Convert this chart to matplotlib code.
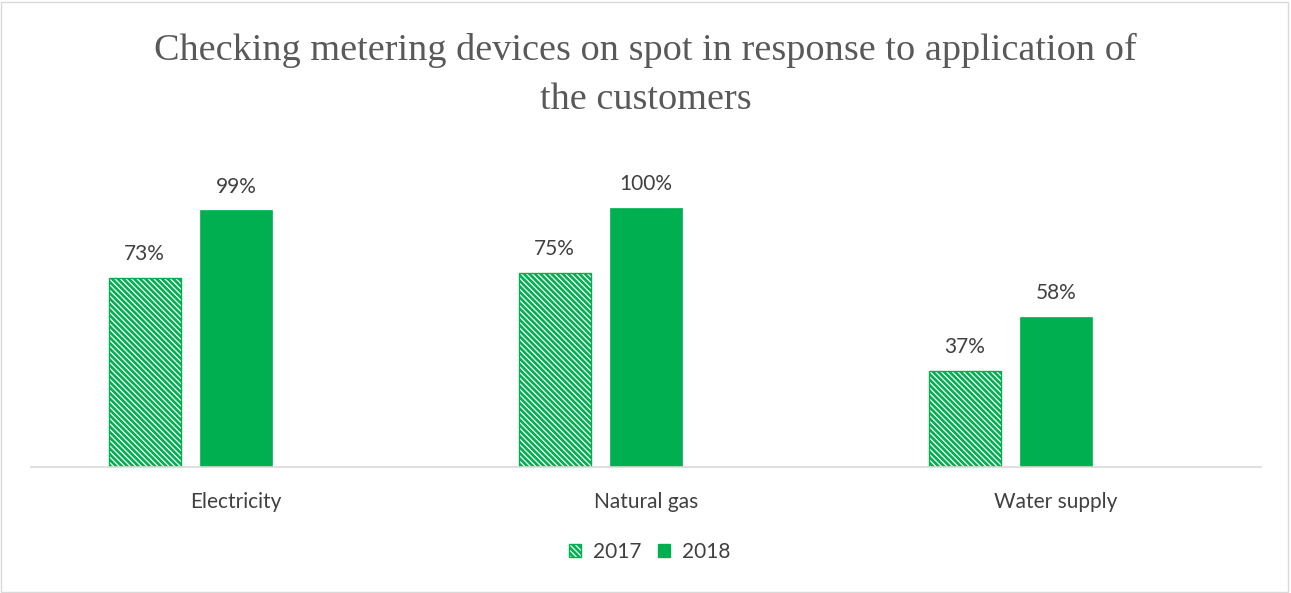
import matplotlib
matplotlib.use("Agg")
import matplotlib.pyplot as plt
from matplotlib.patches import Rectangle, Patch
import numpy as np

categories = ["Electricity", "Natural gas", "Water supply"]
series_names = ["2017", "2018"]
values_2017 = [73, 75, 37]
values_2018 = [99, 100, 58]

GREEN = "#00B050"
TEXT = "#404040"
TITLE = "#595959"
HATCH = "\\" * 6
FONT = "Lato"
FS = 15

plt.rcParams["hatch.linewidth"] = 1.9
plt.rcParams["hatch.color"] = GREEN

fig = plt.figure(figsize=(12.91, 5.93), dpi=100)
fig.patch.set_facecolor("white")
fig.add_artist(Rectangle((0.001, 0.002), 0.997, 0.995, transform=fig.transFigure,
                         fill=False, edgecolor="#D9D9D9", linewidth=1))

ax = fig.add_axes([0.024, 0.2125, 0.9528, 0.5245])
x = np.arange(len(categories))
width = 0.1756
offset = 0.223

b1 = ax.bar(x - offset, values_2017, width, facecolor="white", edgecolor=GREEN,
            hatch=HATCH, linewidth=1.0)
b2 = ax.bar(x, values_2018, width, color=GREEN, edgecolor=GREEN, linewidth=0.5)

for bars, vals in ((b1, values_2017), (b2, values_2018)):
    for rect, v in zip(bars, vals):
        ax.annotate(f"{v}%", (rect.get_x() + rect.get_width() / 2, v),
                    xytext=(0, 10), textcoords="offset points", ha="center", va="bottom",
                    fontsize=FS, color=TEXT, family=FONT)

ax.set_xlim(-0.5, 2.5)
ax.set_ylim(0, 120)
ax.set_xticks(x)
ax.set_xticklabels(categories, fontsize=FS, color=TEXT, family=FONT)
ax.tick_params(axis="x", length=0, pad=18)
ax.set_yticks([])
for side in ("top", "right", "left"):
    ax.spines[side].set_visible(False)
ax.spines["bottom"].set_color("#D9D9D9")
ax.spines["bottom"].set_linewidth(1.2)

fig.text(0.5, 0.873, "Checking metering devices on spot in response to application of\nthe customers",
         ha="center", va="center", fontsize=27.5, color=TITLE, family="Liberation Serif",
         linespacing=1.55)

handles = [Patch(facecolor="white", edgecolor=GREEN, hatch=HATCH, linewidth=1.0),
           Patch(facecolor=GREEN, edgecolor=GREEN)]
leg = fig.legend(handles, series_names, loc="center", bbox_to_anchor=(0.503, 0.069),
                 ncol=2, frameon=False, handlelength=0.6, handleheight=0.6,
                 handletextpad=0.55, columnspacing=0.8,
                 prop={"family": FONT, "size": FS})
for t in leg.get_texts():
    t.set_color(TEXT)

fig.savefig("out.png", dpi=100, facecolor="white")
